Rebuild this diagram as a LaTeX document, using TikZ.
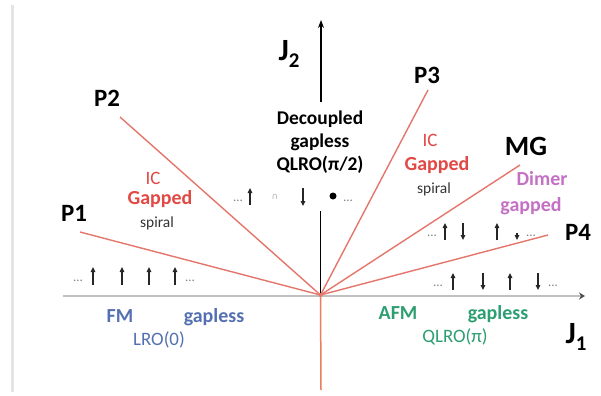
\documentclass[tikz,border=0pt]{standalone}
\usepackage{fontspec}
\setmainfont{Carlito}
\newfontfamily\symfont{DejaVu Sans}
\usetikzlibrary{arrows.meta}
\definecolor{phline}{RGB}{228,118,108}
\definecolor{belowline}{RGB}{235,125,95}
\definecolor{icred}{RGB}{226,72,68}
\definecolor{fmblue}{RGB}{85,112,178}
\definecolor{afmgreen}{RGB}{45,158,112}
\definecolor{dimerpink}{RGB}{196,112,196}
\definecolor{axisgray}{RGB}{192,192,192}
\definecolor{framegray}{RGB}{228,228,228}
\begin{document}
\begin{tikzpicture}[x=1bp,y=-1bp,
  lab/.style={font=\fontsize{20}{23}\selectfont\bfseries, inner sep=0pt},
  labreg/.style={font=\fontsize{19}{23}\selectfont, inner sep=0pt},
  small/.style={font=\fontsize{15.5}{18}\selectfont, inner sep=0pt},
  ptlab/.style={font=\fontsize{25}{28}\selectfont\bfseries, inner sep=0pt},
  axlab/.style={font=\fontsize{31}{34}\selectfont\bfseries, inner sep=0pt},
  bound/.style={draw=phline, line width=1.4bp},
  spinarrow/.style={draw=black!85, line width=1.3bp, -{Triangle[length=5bp,width=4.5bp]}},
  dots/.style={font=\fontsize{13}{14}\selectfont, text=gray, inner sep=0pt}]
\useasboundingbox (0,0) rectangle (601,395);
\fill[white] (0,0) rectangle (601,395);
% frame edge
\draw[framegray, line width=3bp] (12,5) -- (12,392);
% coordinates
\coordinate (o) at (320.5,295);
\coordinate (e1) at (80,232);
\coordinate (e2) at (120,117);
\coordinate (e3) at (428,90);
\coordinate (emg) at (520,165);
\coordinate (e4) at (548,235);
\coordinate (xl) at (63,296);
\coordinate (xr) at (585,296);
\coordinate (yt) at (321,20);
\coordinate (ytb) at (321,102);
\coordinate (ymt) at (320.5,211);
\coordinate (yb) at (321,390);
% horizontal axis
\draw[axisgray, line width=2.5bp, -{Stealth[length=6bp,width=7bp,color=black!70]}] (xl) -- (xr);
% vertical axis
\draw[black, line width=1.2bp, -{Stealth[length=8bp,width=6bp]}] (ytb) -- (yt);
\draw[black, line width=1.2bp] (ymt) -- (o);
\draw[belowline, line width=1.5bp] (o) -- (yb);
% phase boundaries
\draw[bound] (o) -- (e1);
\draw[bound] (o) -- (e2);
\draw[bound] (o) -- (e3);
\draw[bound] (o) -- (emg);
\draw[bound] (o) -- (e4);
\fill[phline] (o) circle (2bp);
% axis labels
\node[axlab] (j2) at (289,54) {J\raisebox{-7bp}{\fontsize{21}{21}\selectfont 2}};
\node[axlab] (j1) at (576,337) {J\raisebox{-7bp}{\fontsize{21}{21}\selectfont 1}};
% point labels
\node[ptlab] (p1) at (74,213) {P1};
\node[ptlab] (p2) at (107,98) {P2};
\node[ptlab] (p3) at (427,75) {P3};
\node[ptlab, font=\fontsize{28}{30}\selectfont\bfseries] (mg) at (526,146) {MG};
\node[ptlab] (p4) at (578,232) {P4};
% phase labels
\node[lab, align=center, font=\fontsize{19.5}{23}\selectfont\bfseries] (dec) at (320,142) {Decoupled\\gapless\\QLRO(π/2)};
\node[labreg, text=icred] (icl) at (153,178) {IC};
\node[lab, text=icred] (gapl) at (160,199) {Gapped};
\node[small, text=black!80] (spl) at (157,223) {spiral};
\node[labreg, text=icred] (icr) at (430,140) {IC};
\node[lab, text=icred] (gapr) at (437,165) {Gapped};
\node[small, text=black!80] (spr) at (434,189) {spiral};
\node[lab, text=dimerpink] (dim) at (542,179) {Dimer};
\node[lab, text=dimerpink] (dgap) at (531,206) {gapped};
\node[lab, text=fmblue] (fm) at (120,316) {FM};
\node[lab, text=fmblue] (fmg) at (214,317) {gapless};
\node[labreg, text=fmblue] (lro) at (159,340) {LRO(0)};
\node[lab, text=afmgreen] (afm) at (398,313) {AFM};
\node[lab, text=afmgreen] (afmg) at (498,314) {gapless};
\node[labreg, text=afmgreen] (qlro) at (455,337) {QLRO(π)};
% spin rows: FM
\node[dots] (fd1) at (78,281) {...};
\foreach \x in {93,122,149,175} \draw[spinarrow] (\x,285) -- (\x,267);
\node[dots] (fd2) at (190,281) {...};
% spin rows: decoupled
\node[dots] (dd1) at (238,201) {...};
\draw[spinarrow] (250,205) -- (250,188);
\node[font=\symfont\fontsize{9}{10}\selectfont, text=gray!60, inner sep=0pt] (ds2) at (275,197) {∩};
\draw[spinarrow] (303,188) -- (303,206);
\fill[black] (333,196) circle (3.5bp);
\node[dots] (dd2) at (348,201) {...};
% spin rows: dimer
\node[dots] (md1) at (432,236) {...};
\draw[spinarrow] (445,240) -- (445,223);
\draw[spinarrow] (463,223) -- (463,240);
\draw[spinarrow] (497,240) -- (497,223);
\draw[spinarrow] (517,233) -- (517,240);
\node[dots] (md2) at (531,236) {...};
% spin rows: AFM
\node[dots] (ad1) at (438,286) {...};
\draw[spinarrow] (453,290) -- (453,273);
\draw[spinarrow] (483,273) -- (483,290);
\draw[spinarrow] (510,290) -- (510,273);
\draw[spinarrow] (538,273) -- (538,290);
\node[dots] (ad2) at (553,286) {...};
\end{tikzpicture}
\end{document}
